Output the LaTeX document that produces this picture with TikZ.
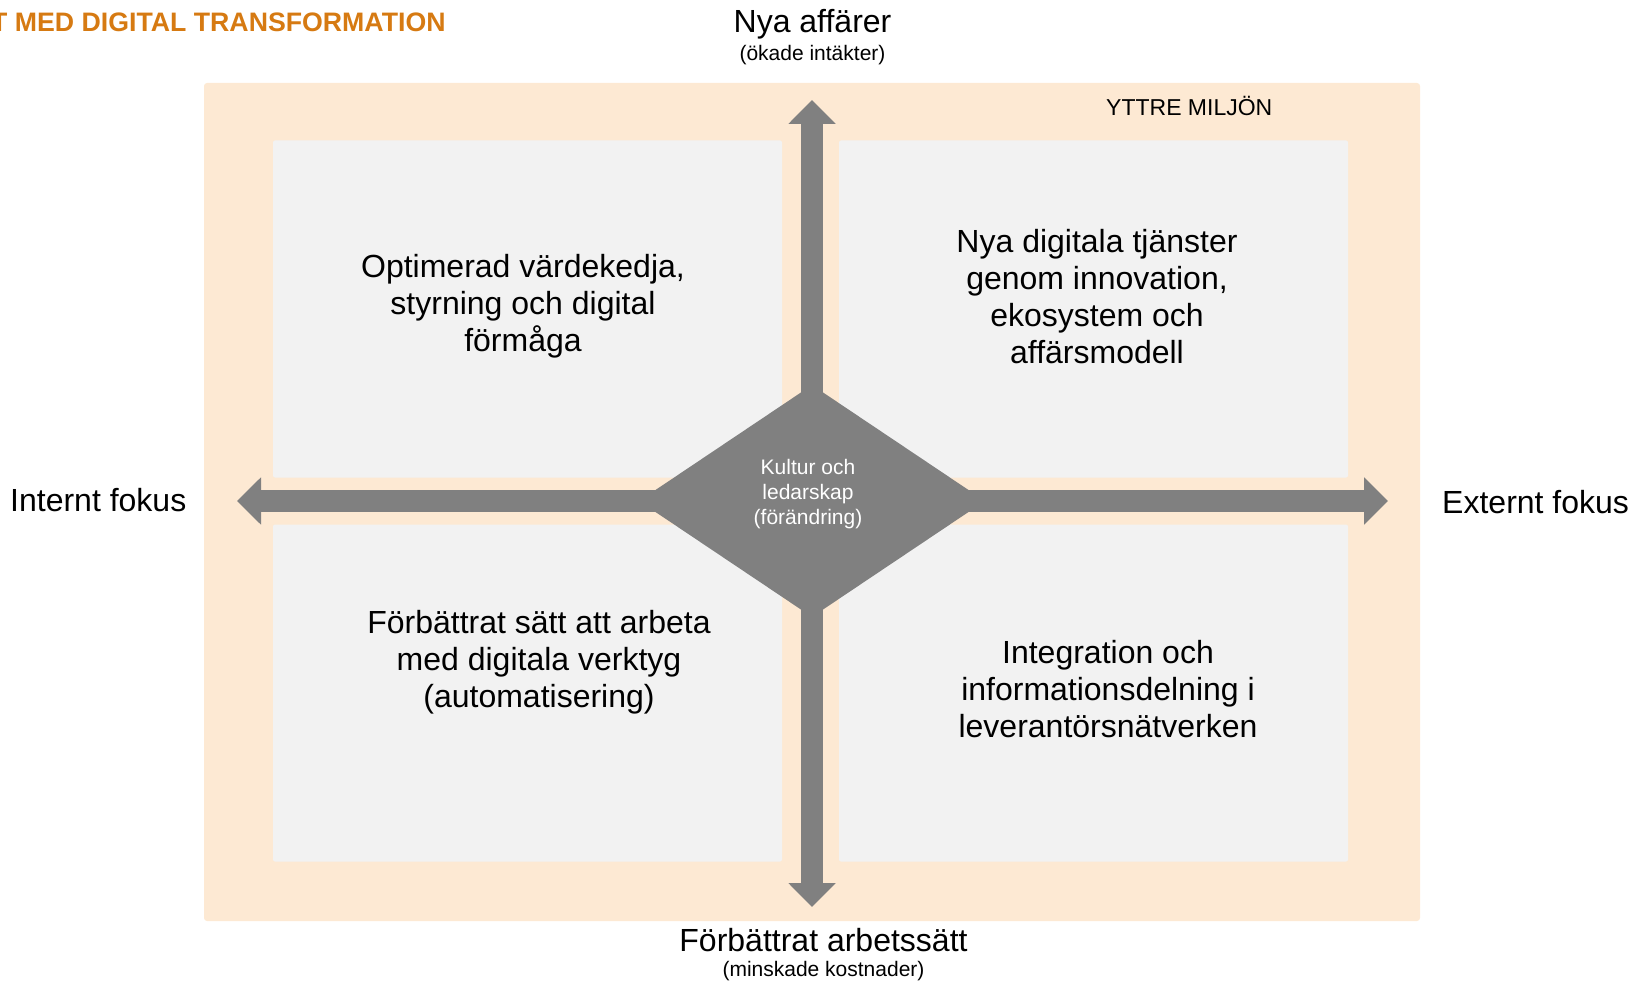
\documentclass[tikz,border=0pt]{standalone}
\usepackage{fontspec}
\setmainfont{Liberation Sans}
\usepackage{tikz}
\usetikzlibrary{arrows.meta}
\usetikzlibrary{shapes.geometric}
\usetikzlibrary{positioning}
\definecolor{peach}{HTML}{FDE9D3}
\definecolor{boxgray}{HTML}{F2F2F2}
\definecolor{arrowgray}{HTML}{808080}
\definecolor{rubrikorange}{HTML}{D67A12}

\begin{document}
\begin{tikzpicture}[x=1pt,y=-1pt]
      \tikzset{
        bg/.style={fill=peach, rounded corners=3pt, minimum width=1216pt, minimum height=838pt, inner sep=0pt},
        box/.style={fill=boxgray, rounded corners=2pt, minimum width=509pt, minimum height=337pt, inner sep=0pt},
        txt/.style={align=center, inner sep=0pt, font=\fontsize{32}{37}\selectfont},
        small/.style={align=center, inner sep=0pt, font=\fontsize{21}{25}\selectfont},
        core/.style={diamond, fill=arrowgray, minimum width=346pt, minimum height=232pt, inner sep=0pt},
        line/.style={draw=arrowgray, line width=22pt, -{Triangle[length=24pt,width=46pt]}},
      }
      \useasboundingbox (0,0) rectangle (1646,981);
      \node [anchor=base west, inner sep=0pt, text=rubrikorange, font=\bfseries\fontsize{26.7}{30}\selectfont] (rubrik) at (-9,32) {T MED DIGITAL TRANSFORMATION};

      \node [bg] (miljo) at (812,502) {};
      \node [anchor=base west, inner sep=0pt, font=\fontsize{23}{27}\selectfont] (yttre) at (1106,116) {YTTRE MILJÖN};

      \node [box] (q1) at (527.5,309) {};
      \node [box] (q2) at (1093.5,309) {};
      \node [box] (q3) at (527.5,693) {};
      \node [box] (q4) at (1093.5,693) {};
      \node [txt] (t1) at (523,306.6) {Optimerad värdekedja,\\styrning och digital\\förmåga};
      \node [txt] (t2) at (1097,297) {Nya digitala tjänster\\genom innovation,\\ekosystem och\\affärsmodell};
      \node [txt] (t3) at (539,662.5) {Förbättrat sätt att arbeta\\med digitala verktyg\\(automatisering)};
      \node [txt] (t4) at (1108,689.3) {Integration och\\informationsdelning i\\leverantörsnätverken};

      \coordinate (mid) at (812,501);
      \coordinate (upp) at (812,100);
      \coordinate (ned) at (812,907);
      \coordinate (vanster) at (237,501);
      \coordinate (hoger) at (1388,501);
      \path [line] (mid)--(upp);
      \path [line] (mid)--(ned);
      \path [line] (mid)--(vanster);
      \path [line] (mid)--(hoger);
      \node [core] (kultur) at (mid) {};
      \node [small, text=white] (kulturtxt) at (808,494.5) {Kultur och\\ledarskap\\(förändring)};

      \node [txt, anchor=base] (nya) at (812.5,33) {Nya affärer};
      \node [small, anchor=base] (okade) at ([yshift=-28pt]nya.base) {(ökade intäkter)};
      \node [txt, anchor=base] (forb) at (823.5,951) {Förbättrat arbetssätt};
      \node [small, anchor=base] (minsk) at ([yshift=-25pt]forb.base) {(minskade kostnader)};
      \node [txt, anchor=base west] (intern) at (10,511) {Internt fokus};
      \node [txt, anchor=base west] (extern) at (1442,513) {Externt fokus};
\end{tikzpicture}
\end{document}
